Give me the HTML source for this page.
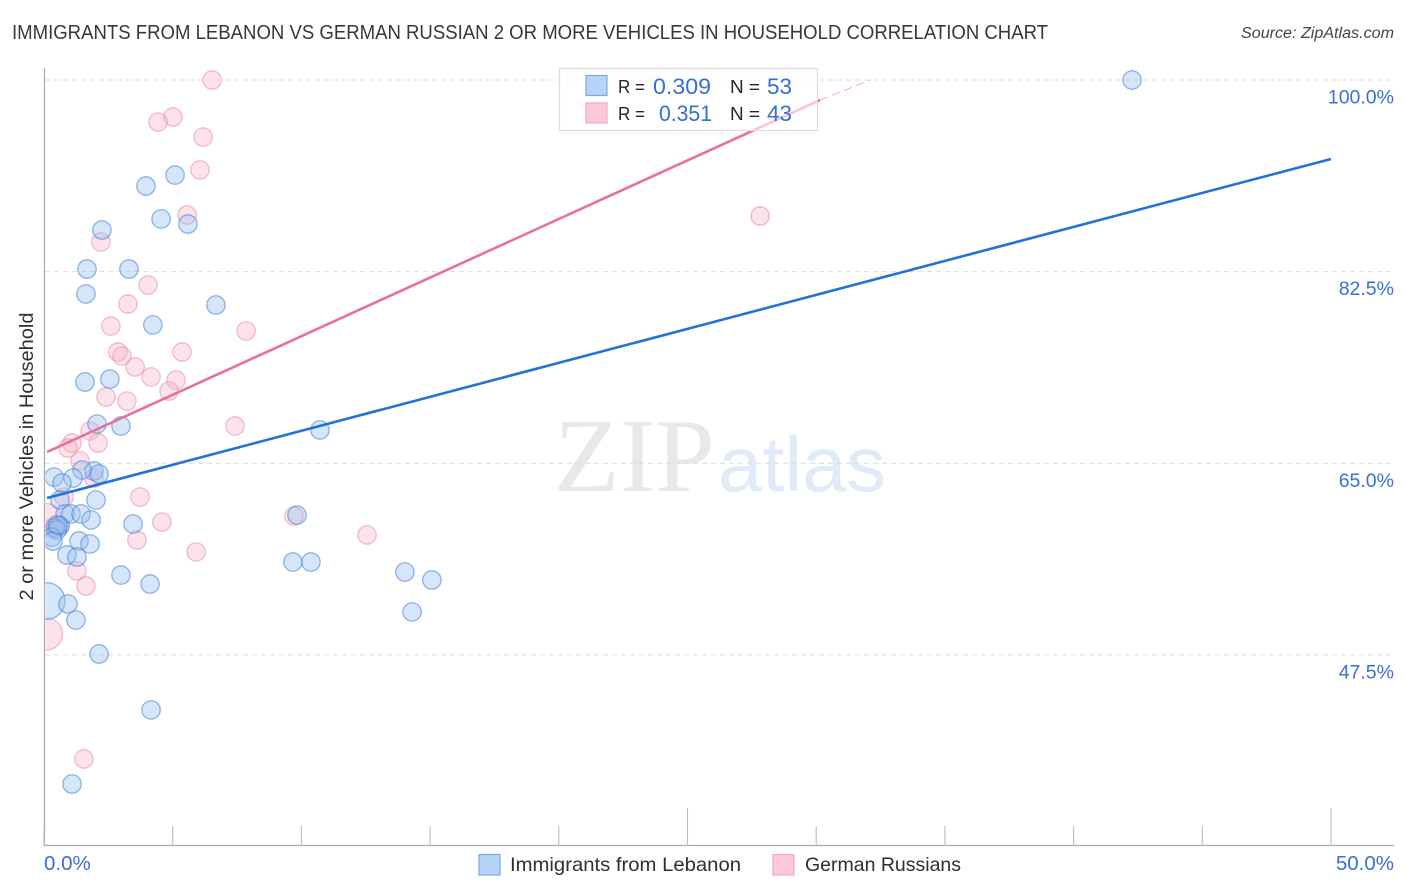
<!DOCTYPE html>
<html lang="en">
<head>
<meta charset="utf-8">
<title>Immigrants from Lebanon vs German Russian correlation chart</title>
<style>
html,body{margin:0;padding:0;background:#fff;}
svg{display:block;font-family:"Liberation Sans",sans-serif;}
</style>
</head>
<body>
<svg id="chart" width="1406" height="892" viewBox="0 0 1406 892" xmlns="http://www.w3.org/2000/svg">
<text x="12" y="39" font-size="20" fill="#333840" textLength="1036" lengthAdjust="spacingAndGlyphs">IMMIGRANTS FROM LEBANON VS GERMAN RUSSIAN 2 OR MORE VEHICLES IN HOUSEHOLD CORRELATION CHART</text>
<text x="1241" y="38" font-size="15.5" font-style="italic" fill="#444" textLength="153" lengthAdjust="spacingAndGlyphs">Source: ZipAtlas.com</text>

<g>
<text x="554" y="491" font-family="'Liberation Serif',serif" font-size="105" fill="#e8e8e8" textLength="161" lengthAdjust="spacingAndGlyphs">ZIP</text>
<text x="718" y="491" font-size="78" fill="#e1eaf8" textLength="168" lengthAdjust="spacingAndGlyphs">atlas</text>
</g>

<g id="grid"></g>
<svg id="plot-area" x="45.5" y="60" width="1349" height="786" viewBox="45.5 60 1349 786" overflow="hidden">
<g id="points"></g>
</svg>
<g id="trends"></g>

<g id="axes">
<line x1="44.5" y1="68" x2="44.5" y2="846" stroke="#aaa" stroke-width="1.2"/>
<line x1="44" y1="845.5" x2="1394" y2="845.5" stroke="#aaa" stroke-width="1.2"/>
</g>
<g id="ticks"></g>
<g id="labels"></g>

<text transform="translate(33,456.5) rotate(-90)" font-size="19" fill="#2b2f36" text-anchor="middle" textLength="288" lengthAdjust="spacingAndGlyphs">2 or more Vehicles in Household</text>

<g>
<rect x="559.5" y="68.5" width="258" height="62" fill="#fff" fill-opacity="0.6" stroke="#ddd" stroke-width="1.2"/>
<rect x="586" y="75.5" width="21" height="20" fill="#b6d3f8" stroke="#7ba9e3" stroke-width="1.2"/>
<rect x="586" y="103" width="21" height="20" fill="#fcc8d8" stroke="#f3a9c0" stroke-width="1.2"/>
<text x="618" y="93" font-size="18.5" fill="#23272e" textLength="27" lengthAdjust="spacingAndGlyphs">R =</text>
<text x="653" y="94" font-size="22" fill="#2f6fd6" textLength="58" lengthAdjust="spacingAndGlyphs">0.309</text>
<text x="730" y="93" font-size="18.5" fill="#23272e" textLength="30" lengthAdjust="spacingAndGlyphs">N =</text>
<text x="767" y="94" font-size="22" fill="#2f6fd6" textLength="25" lengthAdjust="spacingAndGlyphs">53</text>
<text x="618" y="120" font-size="18.5" fill="#23272e" textLength="27" lengthAdjust="spacingAndGlyphs">R =</text>
<text x="659" y="121" font-size="22" fill="#2f6fd6" textLength="53" lengthAdjust="spacingAndGlyphs">0.351</text>
<text x="730" y="120" font-size="18.5" fill="#23272e" textLength="30" lengthAdjust="spacingAndGlyphs">N =</text>
<text x="767" y="121" font-size="22" fill="#2f6fd6" textLength="25" lengthAdjust="spacingAndGlyphs">43</text>
</g>

<g>
<rect x="479" y="854.5" width="21" height="20.5" fill="#b6d3f8" stroke="#7ba9e3" stroke-width="1.2"/>
<text x="510" y="871" font-size="19.5" fill="#2b2f36" textLength="231" lengthAdjust="spacingAndGlyphs">Immigrants from Lebanon</text>
<rect x="773" y="854.5" width="21" height="20.5" fill="#fcc8d8" stroke="#f3a9c0" stroke-width="1.2"/>
<text x="805" y="871" font-size="19.5" fill="#2b2f36" textLength="156" lengthAdjust="spacingAndGlyphs">German Russians</text>
</g>
</svg>

<script>
var yTickValues = [100, 82.5, 65, 47.5];
var yTickLabels = ["100.0%", "82.5%", "65.0%", "47.5%"];
var xTickValues = [0, 5, 10, 15, 20, 25, 30, 35, 40, 45, 50];
var xMajorTicks = [0, 25, 50];
var xEndValues = [0, 50];
var xEndLabels = ["0.0%", "50.0%"];

var blueX = [42.27,5.09,3.96,4.55,5.59,2.25,1.67,3.30,1.63,6.68,4.23,1.59,2.56,2.06,2.99,10.72,1.94,2.14,1.48,0.39,1.13,0.70,0.62,2.02,0.82,1.05,1.44,1.83,3.46,0.62,0.43,0.51,0.31,0.35,1.36,1.79,0.89,1.28,2.99,4.12,9.67,10.37,9.83,14.02,15.07,14.30,0.1,0.93,1.24,2.14,4.16,1.09,0.54];
var blueY = [100,91.32,90.32,87.31,86.85,86.30,82.74,82.74,80.46,79.45,77.63,72.42,72.69,68.58,68.40,68.04,64.29,64.02,64.38,63.74,63.65,63.20,61.64,61.64,60.37,60.37,60.37,59.82,59.45,59.27,59.09,58.90,58.26,57.90,57.90,57.63,56.62,56.44,54.79,53.97,55.98,55.98,60.27,55.07,54.34,51.42,52.42,52.15,50.68,47.58,42.47,35.71,59.36];
var blueWeight = [1,1,1,1,1,1,1,1,1,1,1,1,1,1,1,1,1,1,1,1,1,1,1,1,1,1,1,1,1,1,1,1,1,1,1,1,1,1,1,1,1,1,1,1,1,1,4,1,1,1,1,1,1];

var pinkX = [6.53,5.01,4.43,6.18,6.06,5.56,2.21,4.04,3.26,2.60,7.85,2.87,3.03,5.36,3.54,4.16,5.13,4.86,3.22,2.41,7.42,1.79,1.09,2.10,0.93,1.40,1.94,0.78,3.73,4.58,9.71,3.61,5.91,12.55,0.1,0.62,0.47,1.28,1.63,0.1,1.55,27.82,0.31];
var pinkY = [100,96.62,96.16,94.79,91.78,87.67,85.21,81.28,79.54,77.53,77.08,75.16,74.79,75.16,73.79,72.88,72.60,71.60,70.68,71.05,68.40,67.95,66.85,66.85,66.39,65.21,63.65,61.92,61.92,59.63,60.18,57.99,56.90,58.45,60.0,59.27,59.36,55.16,53.79,49.41,37.99,87.58,59.09];
var pinkWeight = [1,1,1,1,1,1,1,1,1,1,1,1,1,1,1,1,1,1,1,1,1,1,1,1,1,1,1,1,1,1,1,1,1,1,2.5,1,1,1,1,3,1,1,1];

var blueTrendX = [0.12, 50];
var blueTrendY = [61.83, 92.79];
var pinkTrendX = [0.12, 30.15];
var pinkTrendY = [66.03, 98.17];
var pinkDashX = [30.15, 32.09];
var pinkDashY = [98.17, 100];

var NS = "http://www.w3.org/2000/svg";
function xScale(v) { return 44 + v * 25.74; }
function yScale(v) { return 80 + (100 - v) * 10.95; }
function radius(w) { return 9.2 * Math.sqrt(w); }

function make(tag, parent, attrs, text) {
  var el = document.createElementNS(NS, tag);
  for (var k in attrs) { el.setAttribute(k, attrs[k]); }
  if (text !== undefined) { el.textContent = text; }
  parent.appendChild(el);
  return el;
}

var gridG = document.getElementById("grid");
var ticksG = document.getElementById("ticks");
var labelsG = document.getElementById("labels");
var pointsG = document.getElementById("points");
var trendsG = document.getElementById("trends");

yTickValues.forEach(function (v, i) {
  var line = make("line", gridG, {x1: 45, x2: 1394, y1: yScale(v), y2: yScale(v), stroke: "#dcdcdc", "stroke-width": 1, "stroke-dasharray": "5 4"});
  
  
  var label = make("text", labelsG, {x: 1394, y: yScale(v) + 23.5, "font-size": 19.5, fill: "#3a6fd8", "text-anchor": "end"}, yTickLabels[i]);
  
  
});

xTickValues.forEach(function (v) {
  var major = xMajorTicks.indexOf(v) >= 0 && v !== 0;
  var tick = make("line", ticksG, {x1: xScale(v), x2: xScale(v), y1: major ? 808 : 826, y2: 846, stroke: "#bbb", "stroke-width": 1.1});
  
  
});

xEndValues.forEach(function (v, i) {
  var label = make("text", labelsG, {x: i === 0 ? xScale(v) : 1394, y: 870, "font-size": 20.5, fill: "#3a6fd8", "text-anchor": i === 0 ? "start" : "end"}, xEndLabels[i]);
  
  
});

pinkX.forEach(function (v, i) {
  var c = make("circle", pointsG, {cx: xScale(v), cy: yScale(pinkY[i]), r: radius(pinkWeight[i]), fill: "#f8b4c9", "fill-opacity": 0.38, stroke: "#e88aa8", "stroke-opacity": 0.55, "stroke-width": 1.3});
  
  
});

blueX.forEach(function (v, i) {
  var c = make("circle", pointsG, {cx: xScale(v), cy: yScale(blueY[i]), r: radius(blueWeight[i]), fill: "#93bef0", "fill-opacity": 0.38, stroke: "#4a86d8", "stroke-opacity": 0.6, "stroke-width": 1.3});
  
  
});

var blueTrend = make("line", trendsG, {x1: xScale(blueTrendX[0]), y1: yScale(blueTrendY[0]), x2: xScale(blueTrendX[1]), y2: yScale(blueTrendY[1]), stroke: "#2272d8", "stroke-width": 2.6});



var pinkTrend = make("line", trendsG, {x1: xScale(pinkTrendX[0]), y1: yScale(pinkTrendY[0]), x2: xScale(pinkTrendX[1]), y2: yScale(pinkTrendY[1]), stroke: "#e96f9c", "stroke-width": 2.6});



var pinkDash = make("line", trendsG, {x1: xScale(pinkDashX[0]), y1: yScale(pinkDashY[0]), x2: xScale(pinkDashX[1]), y2: yScale(pinkDashY[1]), stroke: "#e96f9c", "stroke-opacity": 0.6, "stroke-width": 1, "stroke-dasharray": "8 5"});


</script>
</body>
</html>
